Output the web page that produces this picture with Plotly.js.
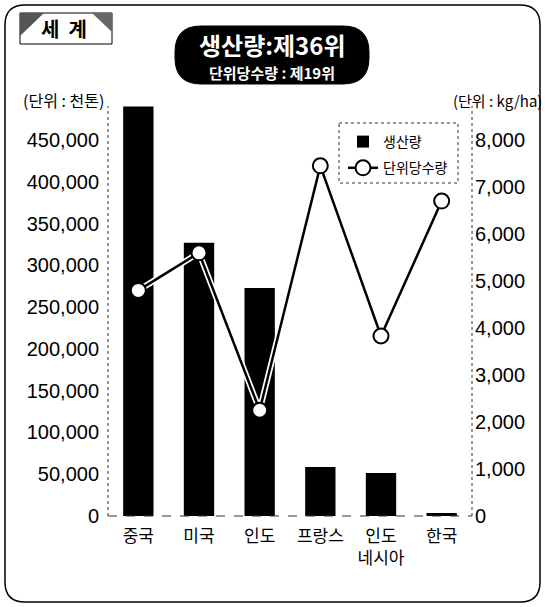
<!DOCTYPE html>
<html>
<head>
<meta charset="utf-8">
<script src="https://cdn.plot.ly/plotly-3.0.1.min.js"></script>
<style>
html,body{margin:0;padding:0;background:#fff;}
#chart{width:545px;height:607px;}
</style>
</head>
<body>
<div id="chart"></div>
<script>
// ---- data ----
var countries = ["중국", "미국", "인도", "프랑스", "인도<br>네시아", "한국"];
var production = [490000, 327000, 273000, 58500, 51500, 3600];   // 천톤
var yieldPerHa = [4800, 5600, 2250, 7450, 3830, 6700];           // kg/ha
var leftTicks = [0, 50000, 100000, 150000, 200000, 250000, 300000, 350000, 400000, 450000];
var rightTicks = [0, 1000, 2000, 3000, 4000, 5000, 6000, 7000, 8000];

// ---- geometry helpers (pixel -> paper) ----
var L = 108, R = 472, T = 106, B = 516;
function px(x){ return (x - L) / (R - L); }
function py(y){ return (B - y) / (B - T); }
function P(x, y){ return px(x).toFixed(5) + "," + py(y).toFixed(5); }
function roundRect(x0, y0, x1, y1, r){
  return "M" + P(x0 + r, y0) + " L" + P(x1 - r, y0) +
    " Q" + P(x1, y0) + " " + P(x1, y0 + r) +
    " L" + P(x1, y1 - r) +
    " Q" + P(x1, y1) + " " + P(x1 - r, y1) +
    " L" + P(x0 + r, y1) +
    " Q" + P(x0, y1) + " " + P(x0, y1 - r) +
    " L" + P(x0, y0 + r) +
    " Q" + P(x0, y0) + " " + P(x0 + r, y0) + " Z";
}

var numFont = "Liberation Sans Narrow, Arial Narrow, Liberation Sans, sans-serif";
var krFont = "Noto Sans CJK KR, sans-serif";

var traces = [
  {
    type: "bar", x: countries, y: production, name: "생산량",
    marker: {color: "#000"}, yaxis: "y", legendgroup: "a",
    hoverinfo: "skip"
  },
  {
    type: "scatter", mode: "lines", x: countries, y: yieldPerHa,
    line: {color: "#fff", width: 6}, yaxis: "y2", showlegend: false,
    hoverinfo: "skip"
  },
  {
    type: "scatter", mode: "lines+markers", x: countries, y: yieldPerHa,
    name: "단위당수량", yaxis: "y2", legendgroup: "b",
    line: {color: "#000", width: 2.5},
    marker: {symbol: "circle", size: 15, color: "#fff", line: {color: "#000", width: 2}},
    hoverinfo: "skip"
  }
];

var shapes = [
  // outer rounded frame
  {type: "path", xref: "paper", yref: "paper", path: roundRect(5, 5, 540, 602, 20),
   line: {color: "#000", width: 1.5}, layer: "below"},
  // 세계 box
  {type: "rect", xref: "paper", yref: "paper", x0: px(20), x1: px(112), y0: py(13), y1: py(44),
   line: {color: "#000", width: 1}, fillcolor: "#fff", layer: "below"},
  {type: "path", xref: "paper", yref: "paper",
   path: "M" + P(20, 13) + " L" + P(44, 13) + " L" + P(20, 36) + " Z",
   line: {width: 0}, fillcolor: "#555", layer: "below"},
  {type: "path", xref: "paper", yref: "paper",
   path: "M" + P(92, 13) + " L" + P(112, 13) + " L" + P(112, 32) + " Z",
   line: {width: 0}, fillcolor: "#666", layer: "below"},
  // title pill
  {type: "path", xref: "paper", yref: "paper", path: roundRect(175, 26, 369, 84, 26),
   line: {color: "#000", width: 1}, fillcolor: "#000", layer: "below"},
  // dotted axis lines
  {type: "line", xref: "paper", yref: "paper", x0: 0, x1: 0, y0: 0, y1: 1,
   line: {color: "#333", width: 1, dash: "dot"}},
  {type: "line", xref: "paper", yref: "paper", x0: 1, x1: 1, y0: 0, y1: 1,
   line: {color: "#333", width: 1, dash: "dot"}},
  {type: "line", xref: "paper", yref: "paper", x0: 0, x1: 1, y0: 0, y1: 0,
   line: {color: "#333", width: 1.2, dash: "dash"}},
  // legend box
  {type: "rect", xref: "paper", yref: "paper", x0: px(339), x1: px(458), y0: py(123), y1: py(183),
   line: {color: "#333", width: 1, dash: "dot"}}
];

var annotations = [
  {xref: "paper", yref: "paper", x: px(64), y: py(28), text: "<b>세  계</b>", showarrow: false,
   font: {family: krFont, size: 20, color: "#000"}, xanchor: "center", yanchor: "middle"},
  {xref: "paper", yref: "paper", x: px(272), y: py(44), text: "<b>생산량:제36위</b>", showarrow: false,
   font: {family: krFont, size: 24, color: "#fff"}, xanchor: "center", yanchor: "middle"},
  {xref: "paper", yref: "paper", x: px(272), y: py(73), text: "<b>단위당수량 : 제19위</b>", showarrow: false,
   font: {family: krFont, size: 15, color: "#fff"}, xanchor: "center", yanchor: "middle"},
  {xref: "paper", yref: "paper", x: px(63), y: py(100), text: "(단위 : 천톤)", showarrow: false,
   font: {family: krFont, size: 16, color: "#000"}, xanchor: "center", yanchor: "middle"},
  {xref: "paper", yref: "paper", x: px(497), y: py(100), text: "(단위 : kg/ha)", showarrow: false,
   font: {family: krFont, size: 15, color: "#000"}, xanchor: "center", yanchor: "middle"}
];

var layout = {
  width: 545, height: 607,
  margin: {l: L, r: 545 - R, t: T, b: 607 - B, pad: 0},
  paper_bgcolor: "#fff", plot_bgcolor: "#fff",
  showlegend: true,
  bargap: 0.5,
  xaxis: {
    type: "category", showgrid: false, zeroline: false, showline: false, ticks: "",
    tickfont: {family: krFont, size: 17, color: "#000"}, ticklabelstandoff: 8, fixedrange: true
  },
  yaxis: {
    range: [0, 490700], tickvals: leftTicks, tickformat: ",d",
    showgrid: false, zeroline: false, showline: false, ticks: "",
    tickfont: {family: numFont, size: 20, color: "#000"}, ticklabelstandoff: 8, fixedrange: true
  },
  yaxis2: {
    overlaying: "y", side: "right", range: [0, 8723], tickvals: rightTicks, tickformat: ",d",
    showgrid: false, zeroline: false, showline: false, ticks: "",
    tickfont: {family: numFont, size: 20, color: "#000"}, ticklabelstandoff: 2, fixedrange: true
  },
  legend: {
    x: px(343), y: py(126), xanchor: "left", yanchor: "top",
    bgcolor: "rgba(0,0,0,0)", borderwidth: 0,
    font: {family: krFont, size: 14, color: "#000"},
    traceorder: "grouped", tracegroupgap: 5, itemwidth: 30
  },
  shapes: shapes,
  annotations: annotations
};

Plotly.newPlot("chart", traces, layout, {displayModeBar: false, staticPlot: true});
</script>
</body>
</html>
